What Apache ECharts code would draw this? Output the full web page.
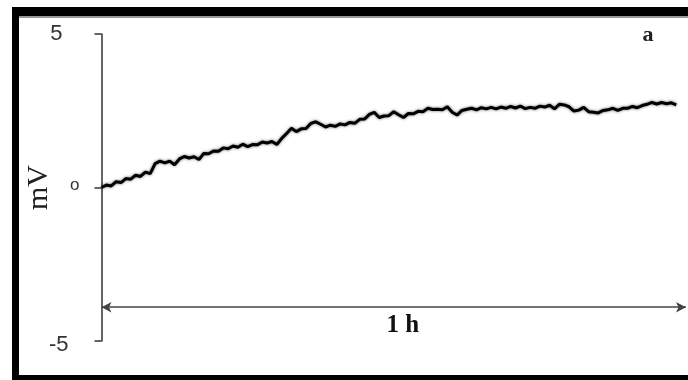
<!DOCTYPE html>
<html>
<head>
<meta charset="utf-8">
<script src="https://cdn.jsdelivr.net/npm/echarts@6/dist/echarts.min.js"></script>
<style>
  html, body { margin: 0; padding: 0; background: #fff; }
  #chart { width: 688px; height: 380px; }
</style>
</head>
<body>
<div id="chart"></div>
<script>
// signal trace, mV, one sample every half minute over about 1 h
var sampleStep = 0.5;
var signalMv = [
  0.00, 0.08, 0.05, 0.19, 0.16, 0.29, 0.27, 0.40, 0.36, 0.50,
  0.45, 0.78, 0.86, 0.80, 0.86, 0.74, 0.93, 1.01, 0.96, 1.00,
  0.91, 1.11, 1.10, 1.19, 1.18, 1.29, 1.26, 1.35, 1.31, 1.41,
  1.33, 1.40, 1.39, 1.48, 1.45, 1.50, 1.40, 1.60, 1.76, 1.93,
  1.82, 1.91, 1.92, 2.09, 2.14, 2.06, 1.97, 2.03, 1.99, 2.07,
  2.04, 2.12, 2.09, 2.22, 2.23, 2.38, 2.45, 2.28, 2.33, 2.34,
  2.47, 2.37, 2.28, 2.41, 2.40, 2.48, 2.47, 2.58, 2.54, 2.55,
  2.53, 2.63, 2.45, 2.36, 2.51, 2.55, 2.58, 2.53, 2.60, 2.56,
  2.61, 2.56, 2.62, 2.58, 2.64, 2.59, 2.65, 2.57, 2.61, 2.58,
  2.65, 2.62, 2.68, 2.56, 2.71, 2.69, 2.63, 2.49, 2.52, 2.61,
  2.47, 2.45, 2.43, 2.51, 2.53, 2.58, 2.51, 2.58, 2.58, 2.64,
  2.60, 2.67, 2.71, 2.77, 2.72, 2.77, 2.73, 2.76, 2.69
];
var yTicks = [-5, 0, 5];
var yTickText = { '-5': '-5', '0': 'o', '5': '5' };
var spanMinutes = 60;
var spanLabel = '1 h';
var arrowLevel = -3.9;
var panelTag = 'a';

var seriesData = signalMv.map(function (v, i) { return [i * sampleStep, v]; });

var chart = echarts.init(document.getElementById('chart'));
chart.setOption({
  animation: false,
  backgroundColor: '#fff',
  grid: { left: 101.5, right: 2, top: 34, bottom: 39 },
  xAxis: {
    type: 'value', min: 0, max: spanMinutes, show: false
  },
  yAxis: {
    type: 'value', min: yTicks[0], max: yTicks[2], interval: 5,
    name: 'mV', nameLocation: 'middle', nameRotate: 90, nameGap: 47,
    nameMoveOverlap: false,
    nameTextStyle: { fontFamily: 'Liberation Serif', fontSize: 30, color: '#222' },
    axisLine: { show: true, lineStyle: { color: '#333', width: 1.5 } },
    axisTick: { show: true, length: 7, lineStyle: { color: '#333', width: 1.5 } },
    splitLine: { show: false },
    axisLabel: {
      margin: 20,
      formatter: function (v) {
        var t = yTickText[String(v)];
        if (v === 0) return '{o|' + t + '}';
        if (v < 0) return '{neg|' + t + '}';
        return '{big|' + t + '}';
      },
      rich: {
        big: { fontFamily: 'Liberation Sans', fontSize: 22, color: '#333', padding: [0, 19, 0, 0] },
        neg: { fontFamily: 'Liberation Sans', fontSize: 22, color: '#333', padding: [8, 13, 0, 0] },
        o: { fontFamily: 'Liberation Sans', fontSize: 17, color: '#333', padding: [0, 2, 5, 0] }
      }
    }
  },
  series: [{
    type: 'line',
    data: seriesData,
    showSymbol: false,
    lineStyle: { color: '#000', width: 3, shadowColor: 'rgba(0,0,0,0.6)', shadowBlur: 3 },
    markLine: {
      silent: true,
      symbol: ['arrow', 'arrow'],
      symbolSize: [8, 10],
      lineStyle: { color: '#444', width: 1.5, type: 'solid' },
      label: {
        show: true,
        position: 'insideMiddleBottom',
        formatter: spanLabel,
        fontFamily: 'Liberation Serif',
        fontWeight: 'bold',
        fontSize: 25,
        color: '#111',
        distance: 6,
        offset: [9, 0]
      },
      data: [[{ coord: [0, arrowLevel] }, { coord: [spanMinutes, arrowLevel] }]]
    }
  }],
  graphic: [
    { type: 'rect', shape: { x: 12, y: 7, width: 676, height: 9 }, style: { fill: '#000' } },
    { type: 'rect', shape: { x: 19, y: 16, width: 669, height: 2 }, style: { fill: '#999' } },
    { type: 'rect', shape: { x: 12, y: 7, width: 7, height: 373 }, style: { fill: '#000' } },
    { type: 'rect', shape: { x: 12, y: 375, width: 676, height: 5 }, style: { fill: '#000' } },
    {
      type: 'text', x: 648, y: 35,
      style: {
        text: panelTag, fontFamily: 'Liberation Serif', fontWeight: 'bold', fontSize: 22,
        fill: '#222', align: 'center', verticalAlign: 'middle'
      }
    }
  ]
});
</script>
</body>
</html>
